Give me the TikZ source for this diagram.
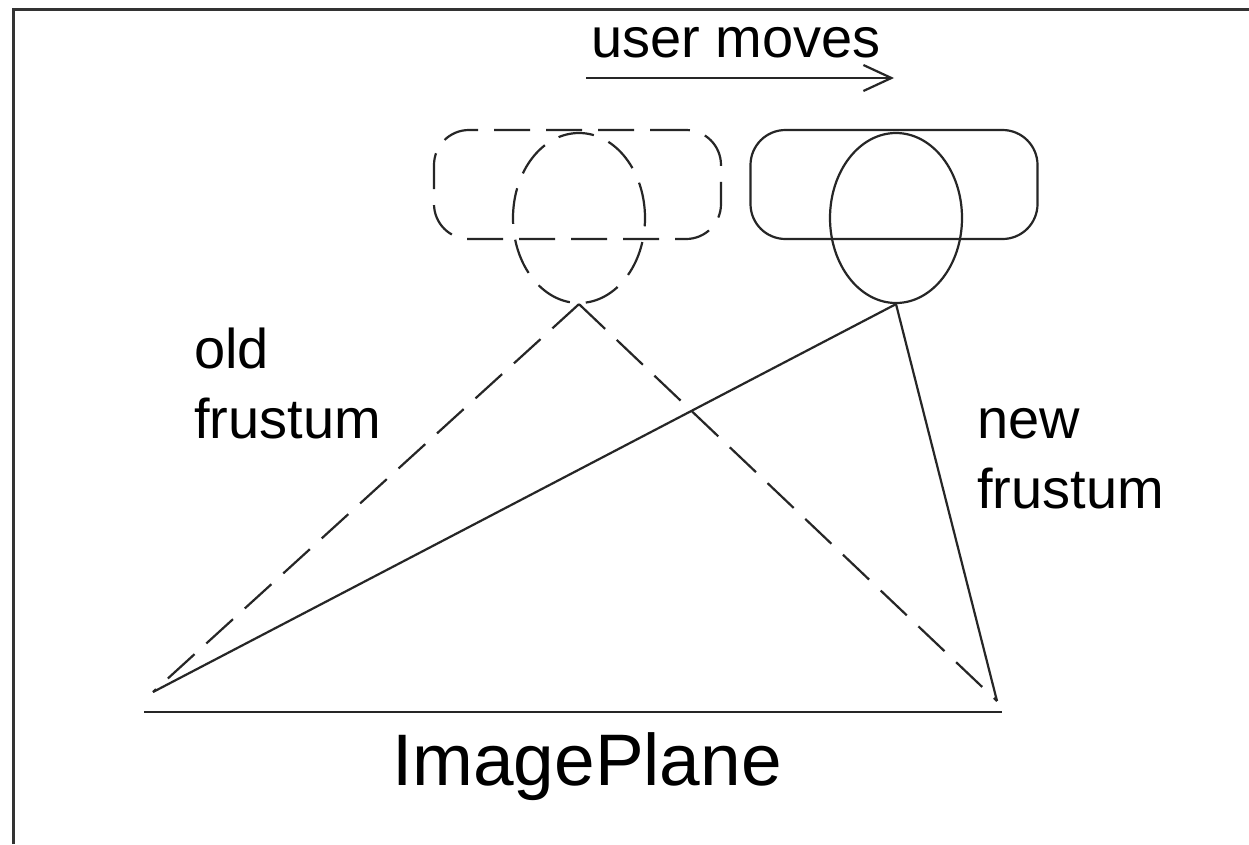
\documentclass[tikz,border=0pt]{standalone}
\usepackage{fontspec}
\setmainfont{Liberation Sans}
\usetikzlibrary{shapes.geometric,arrows.meta}
\begin{document}
\begin{tikzpicture}[x=1pt,y=-1pt,
  ln/.style={line width=2.2pt, draw=black!85},
  dsh/.style={dash pattern=on 36pt off 16pt},
  camrect/.style={ln, rectangle, rounded corners=35pt, minimum width=287pt, minimum height=109pt, inner sep=0pt},
  lens/.style={ln, ellipse, minimum width=132pt, minimum height=170pt, inner sep=0pt},
  lbl/.style={inner sep=0pt, font=\fontsize{56}{70}\selectfont, align=left, anchor=base west}
]
\useasboundingbox (0,0) rectangle (1249,844);
\fill[white] (0,0) rectangle (1249,844);
% border
\draw[line width=3pt, draw=black!80] (13.5,844) -- (13.5,9) -- (1249,9);

% cameras
\node[camrect, dsh] (oldR) at (577.5,184.5) {};
\node[lens, dsh] (oldE) at (579,218) {};
\node[camrect] (newR) at (894,184.5) {};
\node[lens] (newE) at (896,218) {};

% image plane ends
\coordinate (L) at (153,692);
\coordinate (R) at (997,701);
\coordinate (PL) at (144,712);
\coordinate (PR) at (1002,712);

% frusta
\draw[ln, dsh] (oldE.south) -- (L);
\draw[ln, dsh] (oldE.south) -- (R);
\draw[ln] (newE.south) -- (L);
\draw[ln] (newE.south) -- (R);

% image plane
\draw[ln] (PL) -- (PR);
\node[inner sep=0pt, anchor=base west, font=\fontsize{73}{88}\selectfont] (ip) at (392,785) {ImagePlane};

% user moves arrow
\coordinate (A1) at (586,78);
\coordinate (A2) at (894,78);
\draw[ln, -{Straight Barb[length=28pt,width=26pt,line width=2.2pt]}] (A1) -- (A2);
\node[lbl] (um) at (591,57) {user moves};

% labels
\node[lbl] (old) at (194,438) {old\\frustum};
\node[lbl] (new) at (977,508) {new\\frustum};
\end{tikzpicture}
\end{document}
